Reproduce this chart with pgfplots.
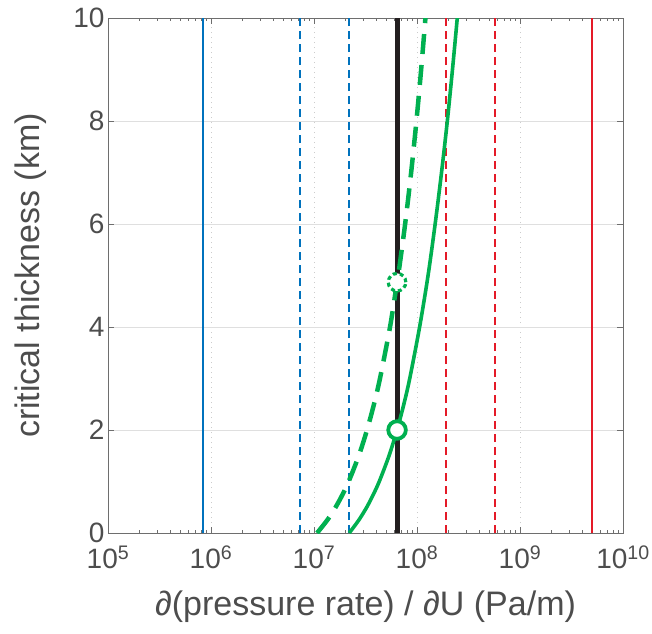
\documentclass[border=0pt]{standalone}
\usepackage{fontspec}
\setmainfont{Liberation Sans}
\usepackage{pgfplots}
\pgfplotsset{compat=1.18}
\definecolor{mblue}{RGB}{0,114,189}
\definecolor{mred}{RGB}{228,26,40}
\definecolor{mgreen}{RGB}{0,176,80}
\definecolor{mblack}{RGB}{35,31,32}
\definecolor{axgray}{RGB}{110,110,110}
\definecolor{txgray}{RGB}{77,77,77}
\begin{document}
\begin{tikzpicture}
\begin{axis}[
  name=ax,
  scale only axis, width=515pt, height=515pt,
  xmode=log, xmin=1e5, xmax=1e10, ymin=0, ymax=10,
  xtick={1e5,1e6,1e7,1e8,1e9,1e10},
  xticklabels={10\textsuperscript{5},10\textsuperscript{6},10\textsuperscript{7},10\textsuperscript{8},10\textsuperscript{9},10\textsuperscript{10}},
  ytick={0,2,4,6,8,10},
  minor xtick={},
  /pgf/number format/assume math mode=true,
  tick align=inside, tickpos=both, major tick length=6pt,
  axis line style={axgray, line width=1pt},
  tick style={axgray, line width=0.8pt},
  ymajorgrids, xmajorgrids,
  y grid style={gray!25, line width=0.8pt},
  x grid style={gray!40, line width=1pt, dash pattern=on 1pt off 4pt},
  ticklabel style={font=\fontsize{28}{30}\selectfont, text=txgray},
  xticklabel style={yshift=-9pt},
  label style={font=\fontsize{34}{36}\selectfont, text=txgray},
  xlabel={∂(pressure rate) / ∂U (Pa/m)},
  ylabel={critical thickness (km)},
  xlabel style={at={(rel axis cs:0.5,0)}, anchor=center, yshift=-74pt},
  ylabel style={at={(rel axis cs:0,0.5)}, anchor=center, yshift=77pt},
  clip=true,
]
% blue lines
\addplot[mblue, line width=2pt] coordinates {(8.3e5,0) (8.3e5,10)};
\addplot[mblue, line width=1.4pt, dash pattern=on 8pt off 5pt] coordinates {(7.3e6,0) (7.3e6,10)};
\addplot[mblue, line width=2.2pt, dash pattern=on 8pt off 5pt] coordinates {(2.2e7,0) (2.2e7,10)};
% red lines
\addplot[mred, line width=2.4pt, dash pattern=on 8pt off 5pt] coordinates {(1.9e8,0) (1.9e8,10)};
\addplot[mred, line width=1.4pt, dash pattern=on 8pt off 5pt] coordinates {(5.7e8,0) (5.7e8,10)};
\addplot[mred, line width=2pt] coordinates {(4.95e9,0) (4.95e9,10)};
% black line
\addplot[mblack, line width=5pt] coordinates {(6.4e7,0) (6.4e7,10)};
% green solid
\addplot[mgreen, line width=3.6pt, smooth] coordinates {
(2.2e7,0) (2.72e7,0.25) (3.25e7,0.5) (3.77e7,0.75) (4.3e7,1) (5.35e7,1.5) (6.4e7,2)
(7.45e7,2.5) (8.5e7,3) (1.06e8,4) (1.28e8,5) (1.5e8,6) (1.73e8,7) (1.97e8,8) (2.21e8,9) (2.46e8,10)};
% green dashed
\addplot[mgreen, line width=4.5pt, dash pattern=on 20pt off 11pt, smooth] coordinates {
(1.07e7,0) (1.345e7,0.25) (1.62e7,0.5) (1.895e7,0.75) (2.17e7,1) (2.72e7,1.5) (3.27e7,2)
(3.82e7,2.5) (4.37e7,3) (5.47e7,4) (6.4e7,4.87) (6.57e7,5) (7.67e7,6) (8.77e7,7) (9.87e7,8) (1.097e8,9) (1.207e8,10)};
% markers
\addplot[only marks, mark=*, mark size=8.8pt, mark options={draw=mgreen, fill=white, line width=3.8pt}] coordinates {(6.4e7,2)};
\addplot[only marks, mark=*, mark size=8.8pt, mark options={draw=mgreen, fill=white, line width=3.2pt, dash pattern=on 4pt off 3pt}] coordinates {(6.4e7,4.87)};
\end{axis}
\pgfresetboundingbox
\path (ax.south west) ++(-108pt,-100pt) rectangle ++(652pt,633pt);
\end{tikzpicture}
\end{document}
